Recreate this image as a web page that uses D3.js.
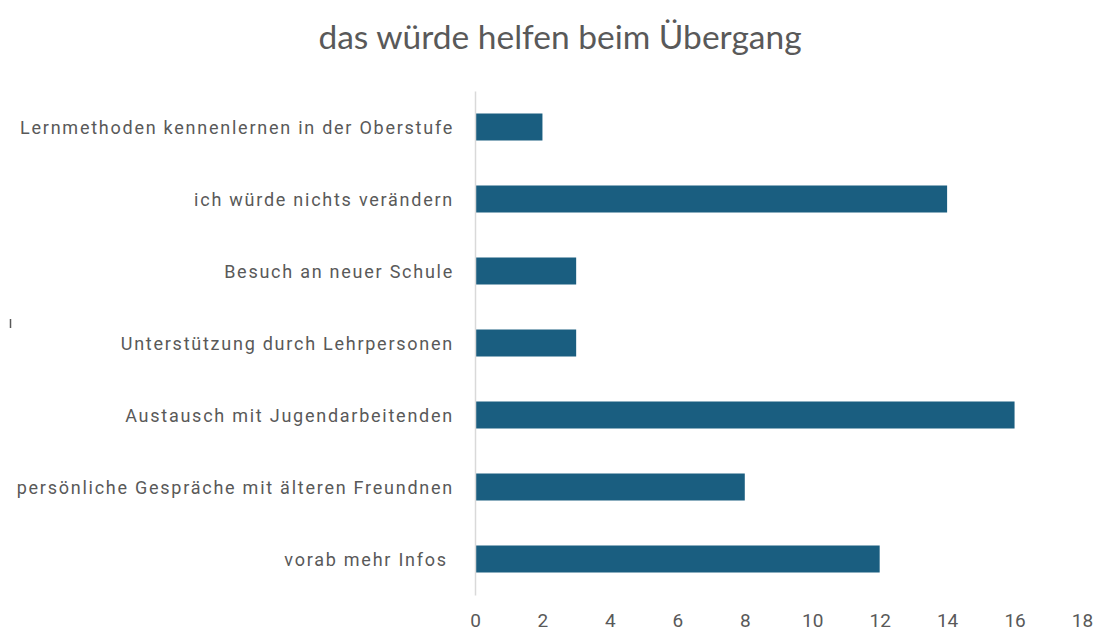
<!DOCTYPE html>
<html>
<head>
<meta charset="utf-8">
<script src="https://cdn.jsdelivr.net/npm/d3@7"></script>
<style>
  body { margin: 0; background: #fff; }
  text { font-family: Roboto, "Noto Sans", sans-serif; }
</style>
</head>
<body>
<div id="chart"></div>
<script>
// data, top to bottom as shown
const categories = [
    "Lernmethoden kennenlernen in der Oberstufe",
    "ich würde nichts verändern",
    "Besuch an neuer Schule",
    "Unterstützung durch Lehrpersonen",
    "Austausch mit Jugendarbeitenden",
    "persönliche Gespräche mit älteren Freundnen",
    "vorab mehr Infos "
];
const values = [2, 14, 3, 3, 16, 8, 12];
const xTicks = [0, 2, 4, 6, 8, 10, 12, 14, 16, 18];
const title = "das würde helfen beim Übergang";

const width = 1096, height = 635;

const svg = d3.select("#chart")
    .append("svg")
    .attr("width", width)
    .attr("height", height);

const x = d3.scaleLinear()
    .domain([0, 18])
    .range([475, 1082]);

const y = d3.scaleBand()
    .domain(categories)
    .range([91, 595])
    .paddingInner(0.625)
    .paddingOuter(0.3125);

// title
svg.append("text")
    .attr("x", 560)
    .attr("y", 48.5)
    .attr("text-anchor", "middle")
    .attr("font-size", 33.5)
    .attr("fill", "#595959")
    .style("font-family", "Lato, sans-serif")
    .text(title);

// small stray mark on the left
svg.append("line")
    .attr("x1", 10.5).attr("x2", 10.5)
    .attr("y1", 319).attr("y2", 328)
    .attr("stroke", "#595959")
    .attr("stroke-width", 1.5);

// bars
svg.append("g")
    .selectAll("rect")
    .data(values)
    .enter().append("rect")
    .attr("x", x(0))
    .attr("y", (d, i) => y(categories[i]))
    .attr("width", d => x(d) - x(0))
    .attr("height", y.bandwidth())
    .attr("fill", "#1a5e80");

// vertical axis line + category labels
const yAxis = svg.append("g")
    .attr("transform", `translate(${x(0)},0)`)
    .call(d3.axisLeft(y).tickSize(0).tickPadding(21));
yAxis.select(".domain")
    .attr("stroke", "#d9d9d9")
    .attr("stroke-width", 1.5);
yAxis.selectAll("text")
    .attr("font-size", 18)
    .attr("dy", "0.4em")
    .attr("fill", "#595959")
    .style("letter-spacing", "1.75px")
    .style("white-space", "pre")
    .style("font-family", "Roboto, sans-serif");

// x tick labels
const xAxis = svg.append("g")
    .attr("transform", `translate(0,${y.range()[1]})`)
    .call(d3.axisBottom(x).tickValues(xTicks).tickSize(0).tickPadding(19));
xAxis.select(".domain").remove();
xAxis.selectAll("text")
    .attr("font-size", 19)
    .attr("fill", "#595959")
    .style("font-family", "Roboto, sans-serif");
</script>
</body>
</html>
